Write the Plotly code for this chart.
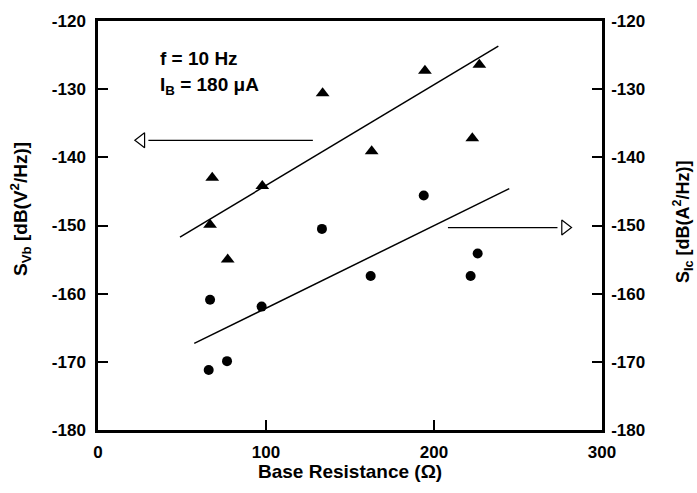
import plotly.graph_objects as go

# ---- data ----
tri_x = [66.7, 68.0, 77.2, 97.8, 133.7, 162.9, 194.6, 222.8, 227.0]
tri_y = [-149.9, -143.0, -155.0, -144.2, -130.6, -139.1, -127.3, -137.2, -126.4]
circ_x = [65.9, 66.7, 76.8, 97.4, 133.3, 162.3, 193.9, 221.8, 226.0]
circ_y = [-171.2, -160.9, -169.9, -161.9, -150.5, -157.4, -145.6, -157.4, -154.1]

fit_vb_x = [48.8, 238.3]
fit_vb_y = [-151.7, -123.7]
fit_ic_x = [57.3, 244.8]
fit_ic_y = [-167.3, -144.6]

x_tickvals = [0, 100, 200, 300]
x_ticktext = ["0", "100", "200", "300"]
y_tickvals = [-180, -170, -160, -150, -140, -130, -120]
y_ticktext = ["-180", "-170", "-160", "-150", "-140", "-130", "-120"]

FONT = "Liberation Sans"

fig = go.Figure()

fig.add_trace(go.Scatter(x=fit_vb_x, y=fit_vb_y, mode="lines",
                         line=dict(color="black", width=1.5), showlegend=False))
fig.add_trace(go.Scatter(x=fit_ic_x, y=fit_ic_y, mode="lines", yaxis="y2",
                         line=dict(color="black", width=1.5), showlegend=False))
fig.add_trace(go.Scatter(x=tri_x, y=tri_y, mode="markers",
                         marker=dict(symbol="triangle-up", size=12, color="black"),
                         showlegend=False))
fig.add_trace(go.Scatter(x=circ_x, y=circ_y, mode="markers", yaxis="y2",
                         marker=dict(symbol="circle", size=10, color="black"),
                         showlegend=False))

# arrows (shaft + open head)
fig.add_trace(go.Scatter(x=[127.9, 30.0], y=[-137.5, -137.5], mode="lines",
                         line=dict(color="black", width=1.2), showlegend=False))
fig.add_trace(go.Scatter(x=[25.8], y=[-137.5], mode="markers",
                         marker=dict(symbol="triangle-left-open", size=13,
                                     color="black", line=dict(width=1.2)),
                         showlegend=False))
fig.add_trace(go.Scatter(x=[208.3, 273.5], y=[-150.3, -150.3], mode="lines",
                         line=dict(color="black", width=1.2), showlegend=False))
fig.add_trace(go.Scatter(x=[278.0], y=[-150.3], mode="markers",
                         marker=dict(symbol="triangle-right-open", size=13,
                                     color="black", line=dict(width=1.2)),
                         showlegend=False))

tickfont = dict(family=FONT, size=17, color="black", weight="bold")
textfont = dict(family=FONT, size=19, color="black", weight="bold")

fig.update_layout(
    width=697, height=493,
    margin=dict(l=98, r=95, t=15, b=63),
    paper_bgcolor="white", plot_bgcolor="white",
    xaxis=dict(range=[0, 300], tickvals=x_tickvals, ticktext=x_ticktext,
               showgrid=False, zeroline=False, showline=True, mirror=True,
               linecolor="black", linewidth=2.5, ticks="inside", ticklen=10,
               tickwidth=1.5, tickcolor="black", tickfont=tickfont,
               ticklabelstandoff=5),
    yaxis=dict(range=[-180, -120], tickvals=y_tickvals, ticktext=y_ticktext,
               showgrid=False, zeroline=False, showline=True,
               linecolor="black", linewidth=2.5, ticks="inside", ticklen=10,
               tickwidth=1.5, tickcolor="black", tickfont=tickfont,
               ticklabelstandoff=6),
    yaxis2=dict(range=[-180, -120], tickvals=y_tickvals, ticktext=y_ticktext,
                overlaying="y", side="right", showgrid=False, zeroline=False,
                showline=True, linecolor="black", linewidth=2.5,
                ticks="inside", ticklen=10, tickwidth=1.5, tickcolor="black",
                tickfont=tickfont, ticklabelstandoff=3),
    annotations=[
        dict(text="Base Resistance (Ω)", xref="paper", yref="paper",
             x=0.5, y=-0.07, xanchor="center", yanchor="top", showarrow=False,
             font=textfont),
        dict(text="S<sub>Vb</sub> [dB(V<sup>2</sup>/Hz)]", xref="paper",
             yref="paper", x=-0.155, y=0.54, xanchor="center", yanchor="middle",
             textangle=-90, showarrow=False, font=textfont),
        dict(text="S<sub>Ic</sub> [dB(A<sup>2</sup>/Hz)]", xref="paper",
             yref="paper", x=1.16, y=0.51, xanchor="center", yanchor="middle",
             textangle=-90, showarrow=False,
             font=dict(family=FONT, size=18, color="black", weight="bold")),
        dict(text="f = 10 Hz", xref="x", yref="y", x=35.7, y=-125.5,
             xanchor="left", yanchor="middle", showarrow=False, font=textfont),
        dict(text="I<sub>B</sub> = 180 μA", xref="x", yref="y", x=35.7,
             y=-129.6, xanchor="left", yanchor="middle", showarrow=False,
             font=textfont),
    ],
)

fig.write_html("out.html")
